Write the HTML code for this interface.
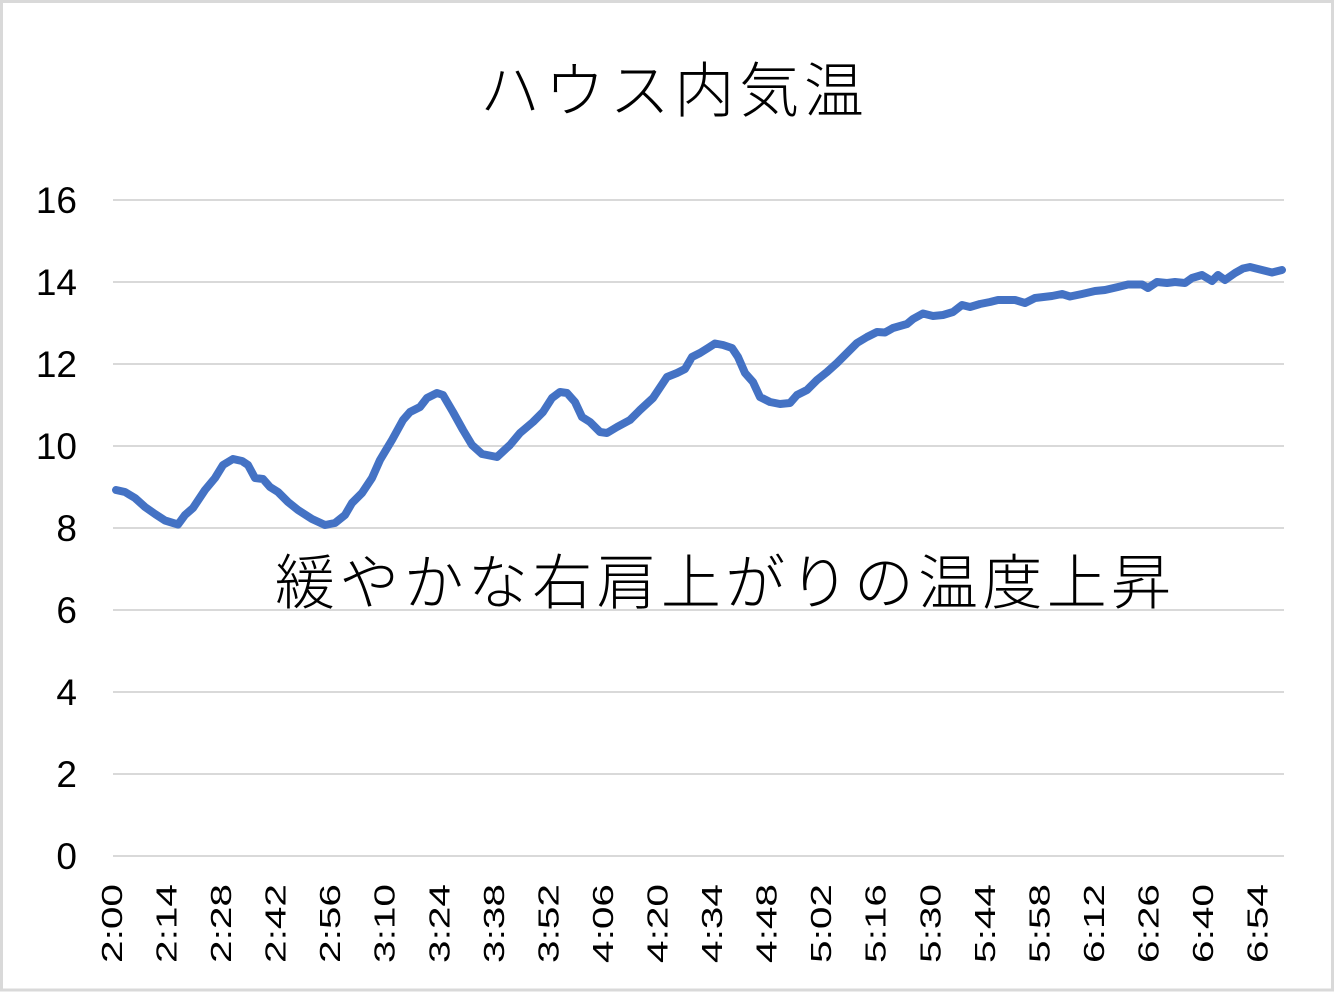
<!DOCTYPE html>
<html><head><meta charset="utf-8">
<style>
html,body{margin:0;padding:0;background:#fff;}
svg{display:block;}
</style></head>
<body>
<svg width="1336" height="993" viewBox="0 0 1336 993" xmlns="http://www.w3.org/2000/svg">
<rect x="0" y="0" width="1336" height="993" fill="#fff"/>
<rect x="1.5" y="1.5" width="1331" height="988.5" fill="#fff" stroke="#D9D9D9" stroke-width="3"/>
<g stroke="#D9D9D9" stroke-width="2">
<line x1="113" y1="200" x2="1284" y2="200"/>
<line x1="113" y1="282" x2="1284" y2="282"/>
<line x1="113" y1="364" x2="1284" y2="364"/>
<line x1="113" y1="446" x2="1284" y2="446"/>
<line x1="113" y1="528" x2="1284" y2="528"/>
<line x1="113" y1="610" x2="1284" y2="610"/>
<line x1="113" y1="692" x2="1284" y2="692"/>
<line x1="113" y1="774" x2="1284" y2="774"/>
<line x1="113" y1="856" x2="1284" y2="856"/>
</g>
<g font-family="'Liberation Sans', Arial, sans-serif" font-size="37" fill="#000" text-anchor="end">
<text x="77" y="213">16</text>
<text x="77" y="295">14</text>
<text x="77" y="377">12</text>
<text x="77" y="459">10</text>
<text x="77" y="541">8</text>
<text x="77" y="623">6</text>
<text x="77" y="705">4</text>
<text x="77" y="787">2</text>
<text x="77" y="869">0</text>
</g>
<g font-family="'Liberation Sans', Arial, sans-serif" font-size="29" fill="#000" text-anchor="end">
<text transform="translate(122,884) rotate(-90) scale(1.4,1)">2:00</text>
<text transform="translate(176.5,884) rotate(-90) scale(1.4,1)">2:14</text>
<text transform="translate(231.1,884) rotate(-90) scale(1.4,1)">2:28</text>
<text transform="translate(285.6,884) rotate(-90) scale(1.4,1)">2:42</text>
<text transform="translate(340.2,884) rotate(-90) scale(1.4,1)">2:56</text>
<text transform="translate(394.7,884) rotate(-90) scale(1.4,1)">3:10</text>
<text transform="translate(449.3,884) rotate(-90) scale(1.4,1)">3:24</text>
<text transform="translate(503.8,884) rotate(-90) scale(1.4,1)">3:38</text>
<text transform="translate(558.4,884) rotate(-90) scale(1.4,1)">3:52</text>
<text transform="translate(613,884) rotate(-90) scale(1.4,1)">4:06</text>
<text transform="translate(667.5,884) rotate(-90) scale(1.4,1)">4:20</text>
<text transform="translate(722,884) rotate(-90) scale(1.4,1)">4:34</text>
<text transform="translate(776.6,884) rotate(-90) scale(1.4,1)">4:48</text>
<text transform="translate(831.2,884) rotate(-90) scale(1.4,1)">5:02</text>
<text transform="translate(885.7,884) rotate(-90) scale(1.4,1)">5:16</text>
<text transform="translate(940.3,884) rotate(-90) scale(1.4,1)">5:30</text>
<text transform="translate(994.8,884) rotate(-90) scale(1.4,1)">5:44</text>
<text transform="translate(1049.4,884) rotate(-90) scale(1.4,1)">5:58</text>
<text transform="translate(1103.9,884) rotate(-90) scale(1.4,1)">6:12</text>
<text transform="translate(1158.5,884) rotate(-90) scale(1.4,1)">6:26</text>
<text transform="translate(1213,884) rotate(-90) scale(1.4,1)">6:40</text>
<text transform="translate(1267.6,884) rotate(-90) scale(1.4,1)">6:54</text>
</g>
<polyline fill="none" stroke="#4472C4" stroke-width="8" stroke-linejoin="round" stroke-linecap="round"
points="116,490 125,492 135,498 145,507 155,514 165,520.5 178,524.5 185,515 193,508 205,490 215,478 223,465 233,459 242,461 248,465 255,478 263,479 270,487 278,492 288,502 298,510 312,519 325,525 335,523 345,515 352,503 362,493 372,478 380,460 392,440 403,420 410,412 420,407 427,398 437,393 443,395 453,412 463,430 472,445 482,454 497,457 510,445 520,433 533,422 543,412 552,398 560,392 567,393 575,402 582,417 590,422 600,432 607,433 617,427 630,420 640,410 653,398 667,377 677,373 685,369 692,357 700,353 708,348 715,343.5 723,345 732,348 738,357 745,373 753,382 760,397 770,402 780,404 790,403 797,395 807,390 817,380 827,372 837,363 847,353 857,343 867,337 877,332 885,332.5 893,328 907,324 913,319 923,313.5 933,316 943,315 953,312 962,305 970,307 980,304 990,302 998,300 1015,300 1025,303 1035,298 1052,296 1062,294 1070,296.5 1082,294 1095,291 1105,290 1118,287 1128,284.5 1142,284.5 1148,288 1157,282 1167,283 1175,282 1185,283 1192,278 1202,275 1212,281 1218,275 1225,280 1235,273 1243,268.5 1250,267 1262,270 1272,272.5 1282,270"/>
<text x="480" y="112" font-family="'Liberation Sans', 'Noto Sans CJK JP', sans-serif" font-size="60" font-weight="300" fill="#000" textLength="384" lengthAdjust="spacing">ハウス内気温</text>
<text x="275" y="604" font-family="'Liberation Sans', 'Noto Sans CJK JP', sans-serif" font-size="60" font-weight="300" fill="#000" textLength="896" lengthAdjust="spacing">緩やかな右肩上がりの温度上昇</text>
</svg>
</body></html>
